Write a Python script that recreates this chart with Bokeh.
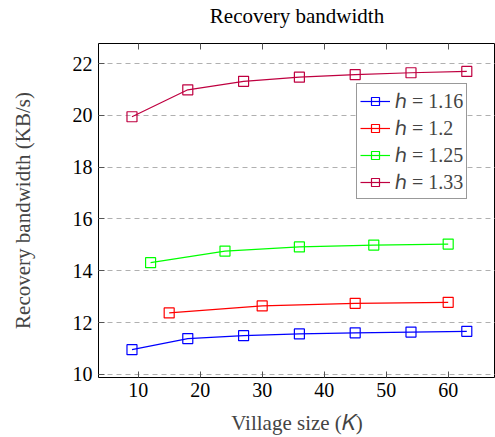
from bokeh.plotting import figure
from bokeh.models import Range1d, LinearAxis, FixedTicker, Legend, LegendItem
from bokeh.embed import file_html
from bokeh.resources import INLINE

# ---- data ----
x_116 = [9, 18, 27, 36, 45, 54, 63]
y_116 = [10.95, 11.38, 11.49, 11.56, 11.60, 11.63, 11.66]
x_120 = [15, 30, 45, 60]
y_120 = [12.37, 12.64, 12.74, 12.78]
x_125 = [12, 24, 36, 48, 60]
y_125 = [14.31, 14.76, 14.92, 14.99, 15.03]
x_133 = [9, 18, 27, 36, 45, 54, 63]
y_133 = [19.95, 20.99, 21.32, 21.48, 21.58, 21.65, 21.70]
series_labels = ["\u210e = 1.16", "\u210e = 1.2", "\u210e = 1.25", "\u210e = 1.33"]
series_colors = ["#0000ff", "#ff0000", "#00ff00", "#bf0040"]
x_ticks = [10, 20, 30, 40, 50, 60]
y_ticks = [10, 12, 14, 16, 18, 20, 22]
title_text = "Recovery bandwidth"

FONT = "Liberation Serif"
FS = "20px"
FS_LAB = "21px"

X0, X1 = 3.6, 67.63
Y0, Y1 = 9.875, 22.78

p = figure(width=495, height=437, output_backend="svg", toolbar_location=None,
           x_range=Range1d(X0, X1), y_range=Range1d(Y0, Y1),
           min_border_left=98, min_border_right=0, min_border_top=43, min_border_bottom=60)

p.outline_line_color = "black"
p.outline_line_width = 1
p.background_fill_color = "white"
p.border_fill_color = "white"

p.xgrid.visible = False
p.ygrid.grid_line_color = "#b0b0b0"
p.ygrid.grid_line_dash = "5 4"
p.ygrid.grid_line_width = 1
p.ygrid.ticker = FixedTicker(ticks=y_ticks)

for ax in (p.xaxis[0], p.yaxis[0]):
    ax.axis_line_color = None
    ax.major_tick_in = 6
    ax.major_tick_out = 0
    ax.major_tick_line_color = "#555555"
    ax.minor_tick_line_color = None
    ax.major_label_text_font = FONT
    ax.major_label_text_font_size = FS
    ax.axis_label_text_font = FONT
    ax.axis_label_text_font_size = FS_LAB
    ax.axis_label_text_font_style = "normal"
    ax.major_label_text_color = "black"

p.xaxis[0].ticker = FixedTicker(ticks=x_ticks)
p.yaxis[0].ticker = FixedTicker(ticks=y_ticks)
p.xaxis[0].axis_label = "Village size (\U0001D43E)"
p.yaxis[0].axis_label = "Recovery bandwidth (KB/s)"
p.xaxis[0].major_label_standoff = 5
p.yaxis[0].major_label_standoff = 6
p.xaxis[0].axis_label_standoff = 11
p.yaxis[0].axis_label_standoff = 35

# top axis: mirrored ticks, and the chart title as its label
top = LinearAxis(ticker=FixedTicker(ticks=x_ticks))
top.axis_line_color = None
top.major_tick_in = 6
top.major_tick_out = 0
top.major_tick_line_color = "#555555"
top.minor_tick_line_color = None
top.major_label_text_font_size = "1px"
top.major_label_text_color = None
top.major_label_standoff = 0
top.axis_label = title_text
top.axis_label_text_font = FONT
top.axis_label_text_font_size = FS_LAB
top.axis_label_text_font_style = "normal"
top.axis_label_text_color = "black"
top.axis_label_standoff = 16
p.add_layout(top, "above")

xs = [x_116, x_120, x_125, x_133]
ys = [y_116, y_120, y_125, y_133]
items = []
for xv, yv, lab, col in zip(xs, ys, series_labels, series_colors):
    r1 = p.line(xv, yv, line_color=col, line_width=1.2)
    r2 = p.scatter(xv, yv, marker="square", size=10, fill_color=None,
                   line_color=col, line_width=1.2)
    items.append(LegendItem(label=lab, renderers=[r1, r2]))

legend = Legend(items=items, location=(258, 178))
legend.label_text_font = FONT
legend.label_text_font_size = "20px"
legend.glyph_width = 30
legend.glyph_height = 20
legend.label_height = 20
legend.label_standoff = 5
legend.spacing = 0
legend.padding = 3
legend.margin = 0
legend.border_line_color = "#333333"
legend.border_line_width = 1
legend.background_fill_alpha = 1
p.add_layout(legend, "center")

open("out.html", "w").write(file_html(p, INLINE))
